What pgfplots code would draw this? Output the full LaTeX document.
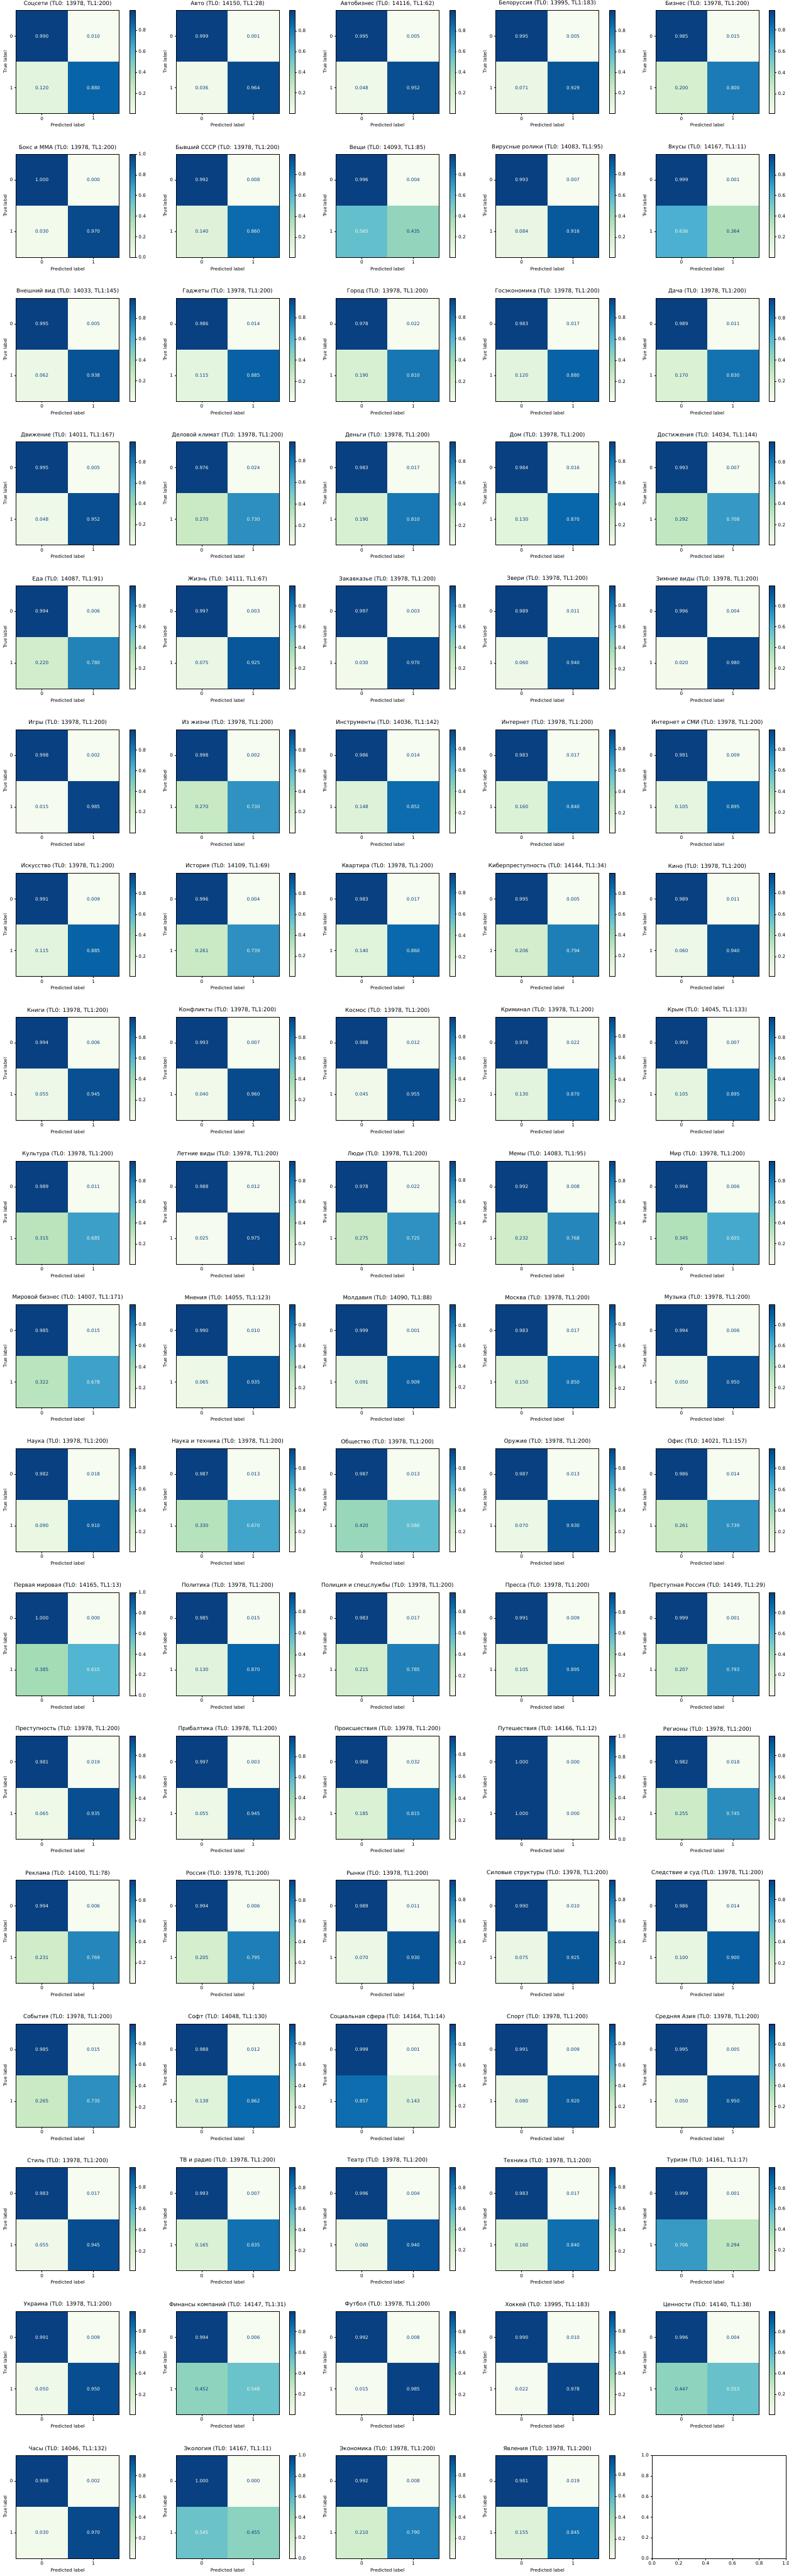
\documentclass[border=0pt]{standalone}
\usepackage{fontspec}
\setmainfont{DejaVu Sans}
\usepackage{pgfplots}
\pgfplotsset{compat=1.18}
\definecolor{cmlight}{RGB}{247,252,240}
\definecolor{cmdark}{RGB}{8,64,129}
\newcommand{\tickfont}{\fontsize{10}{12}\selectfont}
\newcommand{\titlefont}{\fontsize{12}{14}\selectfont}
\pgfplotsset{
  colormap={GnBu}{rgb255=(247,252,240) rgb255=(224,243,219) rgb255=(204,235,197) rgb255=(168,221,181) rgb255=(123,204,196) rgb255=(78,179,211) rgb255=(43,140,190) rgb255=(8,104,172) rgb255=(8,64,129)},
  /pgf/number format/assume math mode=true,
  cmaxis/.style={
    scale only axis, width=224.3pt, height=224.3pt, anchor=north west,
    xmin=-0.5, xmax=1.5, ymin=-0.5, ymax=1.5, y dir=reverse,
    enlargelimits=false, axis on top,
    xtick={0,1}, ytick={0,1}, xtick pos=bottom, ytick pos=left,
    tick align=outside, major tick length=3.5pt,
    every tick/.style={black, line width=0.8pt},
    axis line style={line width=0.8pt},
    tick label style={font=\tickfont},
    label style={font=\tickfont},
    title style={font=\titlefont},
    xlabel={Predicted label}, ylabel={True label},
    colormap name=GnBu,
    colorbar,
    colorbar style={at={(parent axis.north east)}, anchor=north west, xshift=14.4pt,
      width=12.1pt, ytick={0,0.2,0.4,0.6,0.8,1}, ytick pos=right, yticklabel pos=right,
      tick align=outside, major tick length=3.5pt,
      every tick/.style={black, line width=0.8pt}, axis line style={line width=0.8pt},
      yticklabel style={font=\tickfont, /pgf/number format/.cd, fixed, fixed zerofill, precision=1}},
  },
}
\newcommand{\cellnum}[4]{%
  \addplot[draw=none, mark=none, forget plot,
    nodes near coords={\pgfmathprintnumber[fixed,fixed zerofill,precision=3]{#3}},
    every node near coord/.style={text=#4, font=\tickfont, anchor=center, inner sep=0pt}]
    coordinates {(#1,#2)};
}
\newcommand{\cm}[7]{%
  \pgfmathsetmacro\px{35.2+348.0*#1}%
  \pgfmathsetmacro\py{-(22.6+312.9*#2)}%
  \pgfmathsetmacro\mn{min(#4,#5,#6,#7)}%
  \pgfmathsetmacro\mx{max(#4,#5,#6,#7)}%
  \ifdim #4pt<0.5pt\def\cA{cmdark}\else\def\cA{cmlight}\fi
  \ifdim #5pt<0.5pt\def\cB{cmdark}\else\def\cB{cmlight}\fi
  \ifdim #6pt<0.5pt\def\cC{cmdark}\else\def\cC{cmlight}\fi
  \ifdim #7pt<0.5pt\def\cD{cmdark}\else\def\cD{cmlight}\fi
  \begin{axis}[cmaxis, at={(\px pt,\py pt)}, title={#3}, point meta min=\mn, point meta max=\mx]
    \addplot[matrix plot*, mesh/cols=2, point meta=explicit]
      coordinates {(0,0) [#4] (1,0) [#5] (0,1) [#6] (1,1) [#7]};
    \cellnum{0}{0}{#4}{\cA}
    \cellnum{1}{0}{#5}{\cB}
    \cellnum{0}{1}{#6}{\cC}
    \cellnum{1}{1}{#7}{\cD}
  \end{axis}
}
\begin{document}
\begin{tikzpicture}
\useasboundingbox (0,0) rectangle (1716.5pt,-5604.5pt);
% row 0
\cm{0}{0}{Соцсети (TL0: 13978, TL1:200)}{0.990}{0.010}{0.120}{0.880}
\cm{1}{0}{Авто (TL0: 14150, TL1:28)}{0.999}{0.001}{0.036}{0.964}
\cm{2}{0}{Автобизнес (TL0: 14116, TL1:62)}{0.995}{0.005}{0.048}{0.952}
\cm{3}{0}{Белоруссия (TL0: 13995, TL1:183)}{0.995}{0.005}{0.071}{0.929}
\cm{4}{0}{Бизнес (TL0: 13978, TL1:200)}{0.985}{0.015}{0.200}{0.800}
% row 1
\cm{0}{1}{Бокс и ММА (TL0: 13978, TL1:200)}{0.9999}{0.0001}{0.030}{0.970}
\cm{1}{1}{Бывший СССР (TL0: 13978, TL1:200)}{0.992}{0.008}{0.140}{0.860}
\cm{2}{1}{Вещи (TL0: 14093, TL1:85)}{0.996}{0.004}{0.565}{0.435}
\cm{3}{1}{Вирусные ролики (TL0: 14083, TL1:95)}{0.993}{0.007}{0.084}{0.916}
\cm{4}{1}{Вкусы (TL0: 14167, TL1:11)}{0.999}{0.001}{0.636}{0.364}
% row 2
\cm{0}{2}{Внешний вид (TL0: 14033, TL1:145)}{0.995}{0.005}{0.062}{0.938}
\cm{1}{2}{Гаджеты (TL0: 13978, TL1:200)}{0.986}{0.014}{0.115}{0.885}
\cm{2}{2}{Город (TL0: 13978, TL1:200)}{0.978}{0.022}{0.190}{0.810}
\cm{3}{2}{Госэкономика (TL0: 13978, TL1:200)}{0.983}{0.017}{0.120}{0.880}
\cm{4}{2}{Дача (TL0: 13978, TL1:200)}{0.989}{0.011}{0.170}{0.830}
% row 3
\cm{0}{3}{Движение (TL0: 14011, TL1:167)}{0.995}{0.005}{0.048}{0.952}
\cm{1}{3}{Деловой климат (TL0: 13978, TL1:200)}{0.976}{0.024}{0.270}{0.730}
\cm{2}{3}{Деньги (TL0: 13978, TL1:200)}{0.983}{0.017}{0.190}{0.810}
\cm{3}{3}{Дом (TL0: 13978, TL1:200)}{0.984}{0.016}{0.130}{0.870}
\cm{4}{3}{Достижения (TL0: 14034, TL1:144)}{0.993}{0.007}{0.292}{0.708}
% row 4
\cm{0}{4}{Еда (TL0: 14087, TL1:91)}{0.994}{0.006}{0.220}{0.780}
\cm{1}{4}{Жизнь (TL0: 14111, TL1:67)}{0.997}{0.003}{0.075}{0.925}
\cm{2}{4}{Закавказье (TL0: 13978, TL1:200)}{0.997}{0.003}{0.030}{0.970}
\cm{3}{4}{Звери (TL0: 13978, TL1:200)}{0.989}{0.011}{0.060}{0.940}
\cm{4}{4}{Зимние виды (TL0: 13978, TL1:200)}{0.996}{0.004}{0.020}{0.980}
% row 5
\cm{0}{5}{Игры (TL0: 13978, TL1:200)}{0.998}{0.002}{0.015}{0.985}
\cm{1}{5}{Из жизни (TL0: 13978, TL1:200)}{0.998}{0.002}{0.270}{0.730}
\cm{2}{5}{Инструменты (TL0: 14036, TL1:142)}{0.986}{0.014}{0.148}{0.852}
\cm{3}{5}{Интернет (TL0: 13978, TL1:200)}{0.983}{0.017}{0.160}{0.840}
\cm{4}{5}{Интернет и СМИ (TL0: 13978, TL1:200)}{0.991}{0.009}{0.105}{0.895}
% row 6
\cm{0}{6}{Искусство (TL0: 13978, TL1:200)}{0.991}{0.009}{0.115}{0.885}
\cm{1}{6}{История (TL0: 14109, TL1:69)}{0.996}{0.004}{0.261}{0.739}
\cm{2}{6}{Квартира (TL0: 13978, TL1:200)}{0.983}{0.017}{0.140}{0.860}
\cm{3}{6}{Киберпреступность (TL0: 14144, TL1:34)}{0.995}{0.005}{0.206}{0.794}
\cm{4}{6}{Кино (TL0: 13978, TL1:200)}{0.989}{0.011}{0.060}{0.940}
% row 7
\cm{0}{7}{Книги (TL0: 13978, TL1:200)}{0.994}{0.006}{0.055}{0.945}
\cm{1}{7}{Конфликты (TL0: 13978, TL1:200)}{0.993}{0.007}{0.040}{0.960}
\cm{2}{7}{Космос (TL0: 13978, TL1:200)}{0.988}{0.012}{0.045}{0.955}
\cm{3}{7}{Криминал (TL0: 13978, TL1:200)}{0.978}{0.022}{0.130}{0.870}
\cm{4}{7}{Крым (TL0: 14045, TL1:133)}{0.993}{0.007}{0.105}{0.895}
% row 8
\cm{0}{8}{Культура (TL0: 13978, TL1:200)}{0.989}{0.011}{0.315}{0.685}
\cm{1}{8}{Летние виды (TL0: 13978, TL1:200)}{0.988}{0.012}{0.025}{0.975}
\cm{2}{8}{Люди (TL0: 13978, TL1:200)}{0.978}{0.022}{0.275}{0.725}
\cm{3}{8}{Мемы (TL0: 14083, TL1:95)}{0.992}{0.008}{0.232}{0.768}
\cm{4}{8}{Мир (TL0: 13978, TL1:200)}{0.994}{0.006}{0.345}{0.655}
% row 9
\cm{0}{9}{Мировой бизнес (TL0: 14007, TL1:171)}{0.985}{0.015}{0.322}{0.678}
\cm{1}{9}{Мнения (TL0: 14055, TL1:123)}{0.990}{0.010}{0.065}{0.935}
\cm{2}{9}{Молдавия (TL0: 14090, TL1:88)}{0.999}{0.001}{0.091}{0.909}
\cm{3}{9}{Москва (TL0: 13978, TL1:200)}{0.983}{0.017}{0.150}{0.850}
\cm{4}{9}{Музыка (TL0: 13978, TL1:200)}{0.994}{0.006}{0.050}{0.950}
% row 10
\cm{0}{10}{Наука (TL0: 13978, TL1:200)}{0.982}{0.018}{0.090}{0.910}
\cm{1}{10}{Наука и техника (TL0: 13978, TL1:200)}{0.987}{0.013}{0.330}{0.670}
\cm{2}{10}{Общество (TL0: 13978, TL1:200)}{0.987}{0.013}{0.420}{0.580}
\cm{3}{10}{Оружие (TL0: 13978, TL1:200)}{0.987}{0.013}{0.070}{0.930}
\cm{4}{10}{Офис (TL0: 14021, TL1:157)}{0.986}{0.014}{0.261}{0.739}
% row 11
\cm{0}{11}{Первая мировая (TL0: 14165, TL1:13)}{1.000}{0.000}{0.385}{0.615}
\cm{1}{11}{Политика (TL0: 13978, TL1:200)}{0.985}{0.015}{0.130}{0.870}
\cm{2}{11}{Полиция и спецслужбы (TL0: 13978, TL1:200)}{0.983}{0.017}{0.215}{0.785}
\cm{3}{11}{Пресса (TL0: 13978, TL1:200)}{0.991}{0.009}{0.105}{0.895}
\cm{4}{11}{Преступная Россия (TL0: 14149, TL1:29)}{0.999}{0.001}{0.207}{0.793}
% row 12
\cm{0}{12}{Преступность (TL0: 13978, TL1:200)}{0.981}{0.019}{0.065}{0.935}
\cm{1}{12}{Прибалтика (TL0: 13978, TL1:200)}{0.997}{0.003}{0.055}{0.945}
\cm{2}{12}{Происшествия (TL0: 13978, TL1:200)}{0.968}{0.032}{0.185}{0.815}
\cm{3}{12}{Путешествия (TL0: 14166, TL1:12)}{1.000}{0.000}{1.000}{0.000}
\cm{4}{12}{Регионы (TL0: 13978, TL1:200)}{0.982}{0.018}{0.255}{0.745}
% row 13
\cm{0}{13}{Реклама (TL0: 14100, TL1:78)}{0.994}{0.006}{0.231}{0.769}
\cm{1}{13}{Россия (TL0: 13978, TL1:200)}{0.994}{0.006}{0.205}{0.795}
\cm{2}{13}{Рынки (TL0: 13978, TL1:200)}{0.989}{0.011}{0.070}{0.930}
\cm{3}{13}{Силовые структуры (TL0: 13978, TL1:200)}{0.990}{0.010}{0.075}{0.925}
\cm{4}{13}{Следствие и суд (TL0: 13978, TL1:200)}{0.986}{0.014}{0.100}{0.900}
% row 14
\cm{0}{14}{События (TL0: 13978, TL1:200)}{0.985}{0.015}{0.265}{0.735}
\cm{1}{14}{Софт (TL0: 14048, TL1:130)}{0.988}{0.012}{0.138}{0.862}
\cm{2}{14}{Социальная сфера (TL0: 14164, TL1:14)}{0.999}{0.001}{0.857}{0.143}
\cm{3}{14}{Спорт (TL0: 13978, TL1:200)}{0.991}{0.009}{0.080}{0.920}
\cm{4}{14}{Средняя Азия (TL0: 13978, TL1:200)}{0.995}{0.005}{0.050}{0.950}
% row 15
\cm{0}{15}{Стиль (TL0: 13978, TL1:200)}{0.983}{0.017}{0.055}{0.945}
\cm{1}{15}{ТВ и радио (TL0: 13978, TL1:200)}{0.993}{0.007}{0.165}{0.835}
\cm{2}{15}{Театр (TL0: 13978, TL1:200)}{0.996}{0.004}{0.060}{0.940}
\cm{3}{15}{Техника (TL0: 13978, TL1:200)}{0.983}{0.017}{0.160}{0.840}
\cm{4}{15}{Туризм (TL0: 14161, TL1:17)}{0.999}{0.001}{0.706}{0.294}
% row 16
\cm{0}{16}{Украина (TL0: 13978, TL1:200)}{0.991}{0.009}{0.050}{0.950}
\cm{1}{16}{Финансы компаний (TL0: 14147, TL1:31)}{0.994}{0.006}{0.452}{0.548}
\cm{2}{16}{Футбол (TL0: 13978, TL1:200)}{0.992}{0.008}{0.015}{0.985}
\cm{3}{16}{Хоккей (TL0: 13995, TL1:183)}{0.990}{0.010}{0.022}{0.978}
\cm{4}{16}{Ценности (TL0: 14140, TL1:38)}{0.996}{0.004}{0.447}{0.553}
% row 17
\cm{0}{17}{Часы (TL0: 14046, TL1:132)}{0.998}{0.002}{0.030}{0.970}
\cm{1}{17}{Экология (TL0: 14167, TL1:11)}{0.9999}{0.0001}{0.545}{0.455}
\cm{2}{17}{Экономика (TL0: 13978, TL1:200)}{0.992}{0.008}{0.210}{0.790}
\cm{3}{17}{Явления (TL0: 13978, TL1:200)}{0.981}{0.019}{0.155}{0.845}
% empty axis
\begin{axis}[scale only axis, width=291.6pt, height=224.3pt, at={(1419.1pt,-5341.9pt)}, anchor=north west,
  xmin=0, xmax=1, ymin=0, ymax=1,
  xtick={0,0.2,0.4,0.6,0.8,1}, ytick={0,0.2,0.4,0.6,0.8,1},
  xtick pos=bottom, ytick pos=left, tick align=outside, major tick length=3.5pt,
  every tick/.style={black, line width=0.8pt}, axis line style={line width=0.8pt},
  tick label style={font=\tickfont, /pgf/number format/.cd, fixed, fixed zerofill, precision=1}]
\end{axis}
\end{tikzpicture}
\end{document}
